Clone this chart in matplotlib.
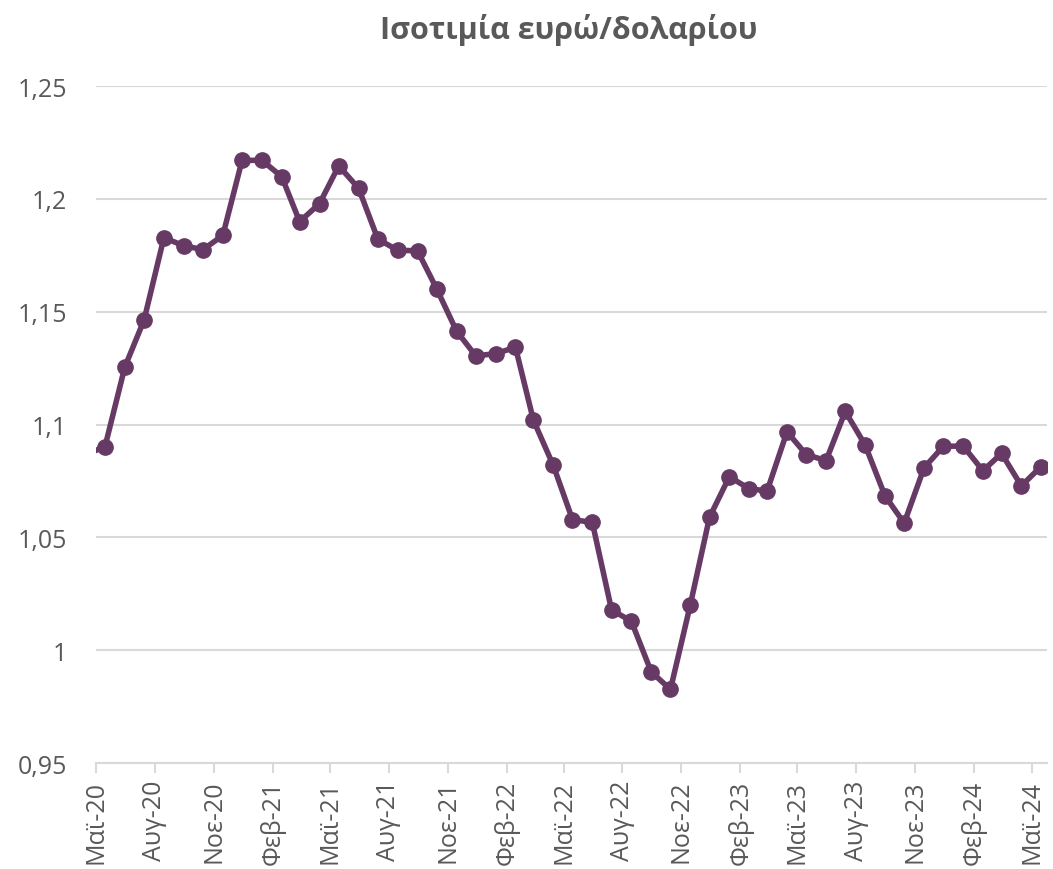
#!/usr/bin/env python
# encoding: utf-8

### EUR/USD monthly exchange rate, May 2020 - May 2024

import numpy as np
import pandas as pd
import matplotlib
matplotlib.use("Agg")
import matplotlib.pyplot as plt
import matplotlib.dates as mdates
from matplotlib.ticker import FuncFormatter, FixedLocator

## data (monthly averages, first point = Apr 2020, clipped by the axis)
start_month = "2020-04"
rates = [1.0867,
         1.0902, 1.1255, 1.1463, 1.1828, 1.1792, 1.1775, 1.1838, 1.2170,
         1.2171, 1.2098, 1.1899, 1.1979, 1.2146, 1.2047, 1.1822, 1.1772,
         1.1770, 1.1601, 1.1414, 1.1304, 1.1314, 1.1342, 1.1019, 1.0819,
         1.0579, 1.0566, 1.0179, 1.0128, 0.9904, 0.9826, 1.0201, 1.0589,
         1.0769, 1.0715, 1.0706, 1.0968, 1.0867, 1.0840, 1.1058, 1.0909,
         1.0684, 1.0563, 1.0808, 1.0903, 1.0905, 1.0795, 1.0872, 1.0728,
         1.0812]
month_names = ["Ιαν", "Φεβ", "Μαρ", "Απρ", "Μαϊ", "Ιουν",
               "Ιουλ", "Αυγ", "Σεπ", "Οκτ", "Νοε", "Δεκ"]
yticks = [0.95, 1.0, 1.05, 1.1, 1.15, 1.2, 1.25]
title = "Ισοτιμία ευρώ/δολαρίου"

## dates: points sit mid-month on a date axis
dates = pd.date_range(start_month + "-01", periods=len(rates), freq="MS") + pd.Timedelta(days=14)
tick_dates = pd.date_range("2020-05-01", "2024-05-01", freq="3MS")

## style
line_col = "#663A65"
grey = "#595959"
grid_col = "#D9D9D9"
plt.rcParams['font.family'] = ['Open Sans', 'DejaVu Sans']

fig = plt.figure(figsize=(10.53, 8.7), dpi=100)
ax = fig.add_axes([0.0912, 0.1218, 0.9031, 0.7782])

ax.plot(dates, rates, color=line_col, lw=4, marker="o", ms=11,
        markerfacecolor=line_col, markeredgecolor=line_col, zorder=3)

ax.set_xlim(pd.Timestamp("2020-05-01"), pd.Timestamp("2024-05-25"))
ax.set_ylim(0.95, 1.25)
ax.set_yticks(yticks)
ax.yaxis.set_major_formatter(FuncFormatter(lambda v, p: ("%g" % round(v, 3)).replace(".", ",")))
ax.grid(axis="y", color=grid_col, lw=1.5, zorder=0)
ax.set_axisbelow(True)

ax.xaxis.set_major_locator(FixedLocator(mdates.date2num(tick_dates)))
ax.set_xticklabels(["%s-%02d" % (month_names[d.month - 1], d.year % 100) for d in tick_dates],
                   rotation=90, va="top", ha="center")

for s in ["top", "right", "left"]:
    ax.spines[s].set_visible(False)
ax.spines["bottom"].set_color(grid_col)
ax.spines["bottom"].set_linewidth(1.5)
ax.tick_params(axis="x", length=7, width=1.5, color=grid_col, pad=5, labelsize=18, labelcolor=grey)
ax.tick_params(axis="y", length=0, pad=21, labelsize=18, labelcolor=grey)

fig.text(0.5405, 0.9655, title, ha="center", va="center", fontsize=22,
         fontweight="bold", color=grey)

fig.savefig("out.png", dpi=100)
